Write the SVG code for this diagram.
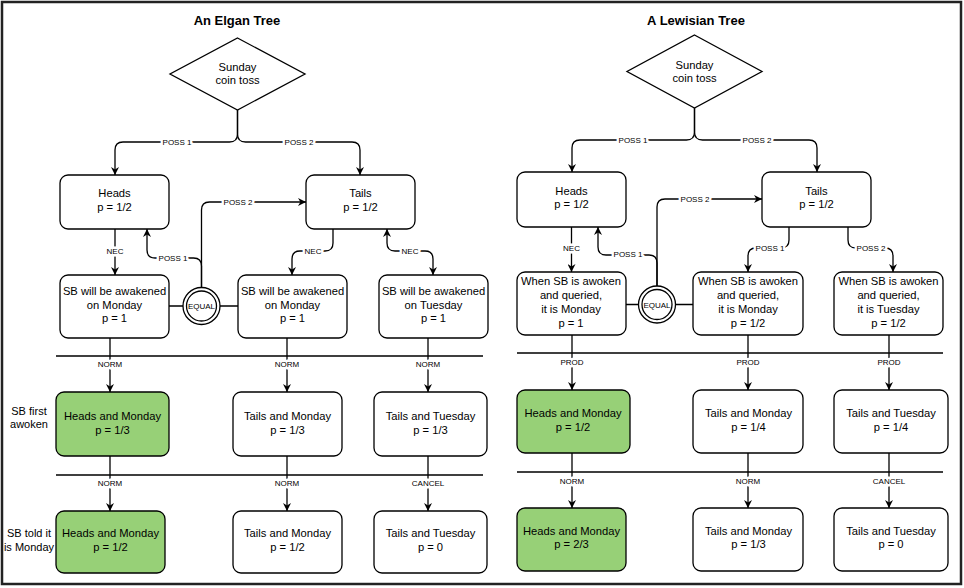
<svg xmlns="http://www.w3.org/2000/svg" width="964" height="588" viewBox="0 0 964 588">
<defs>
<marker id="arr" viewBox="0 0 10 10" refX="10" refY="5" markerWidth="8" markerHeight="8" markerUnits="userSpaceOnUse" orient="auto">
<path d="M0,0 L10,5 L0,10 L3,5 Z" fill="#000"/>
</marker>
<marker id="arrs" viewBox="0 0 10 10" refX="10" refY="5" markerWidth="8" markerHeight="8" markerUnits="userSpaceOnUse" orient="auto-start-reverse">
<path d="M0,0 L10,5 L0,10 L3,5 Z" fill="#000"/>
</marker>
<style>
text{font-family:"Liberation Sans",Arial,sans-serif;fill:#000;text-anchor:middle}
.t{font-size:11.2px}
.title{font-size:13px;font-weight:bold}
.side{font-size:11px}
.lbl{font-size:8px;paint-order:stroke;stroke:#fff;stroke-width:5px;stroke-linejoin:round}
.box{fill:#fff;stroke:#000;stroke-width:1.3}
.green{fill:#97D077;stroke:#000;stroke-width:1.3}
.e{fill:none;stroke:#000;stroke-width:1.3}
.ea{fill:none;stroke:#000;stroke-width:1.3;marker-end:url(#arr)}
</style>
</defs>
<rect x="2" y="2" width="959" height="582" fill="#fff" stroke="#222" stroke-width="2.5"/>

<!-- Connectors -->
<g id="connectors">
<!-- left tree -->
<path class="ea" d="M237.5,110 V134 Q237.5,142 229.5,142 H123 Q115,142 115,150 V175"/>
<path class="ea" d="M237.5,110 V134 Q237.5,142 245.5,142 H352 Q360,142 360,150 V175"/>
<path class="ea" d="M115,229 V275"/>
<path class="ea" d="M333,229 V243 Q333,251 325,251 H300 Q292,251 292,259 V275"/>
<path class="ea" d="M387,229 V243 Q387,251 395,251 H425 Q433,251 433,259 V275" marker-start="url(#arrs)"/>
<path class="e" d="M169,306 H183 M220,306 H238"/>
<path class="ea" d="M201.5,287.5 V210 Q201.5,202 209.5,202 H306"/>
<path class="ea" d="M201.5,287.5 V266 Q201.5,258 193.5,258 H155 Q147,258 147,250 V229"/>
<path class="e" d="M56,356 H483 M56,475 H483"/>
<path class="ea" d="M110,338 V392"/>
<path class="ea" d="M287,338 V392"/>
<path class="ea" d="M428,338 V392"/>
<path class="ea" d="M110,456 V511"/>
<path class="ea" d="M287,456 V511"/>
<path class="ea" d="M428,456 V511"/>
<text class="lbl" x="177" y="145">POSS 1</text>
<text class="lbl" x="299" y="145">POSS 2</text>
<text class="lbl" x="115" y="254">NEC</text>
<text class="lbl" x="313" y="254">NEC</text>
<text class="lbl" x="410" y="254">NEC</text>
<text class="lbl" x="238" y="205">POSS 2</text>
<text class="lbl" x="173" y="261">POSS 1</text>
<text class="lbl" x="110" y="367">NORM</text>
<text class="lbl" x="287" y="367">NORM</text>
<text class="lbl" x="428" y="367">NORM</text>
<text class="lbl" x="110" y="486">NORM</text>
<text class="lbl" x="287" y="486">NORM</text>
<text class="lbl" x="428" y="486">CANCEL</text>
<!-- right tree -->
<path class="ea" d="M694.5,108 V132 Q694.5,140 686.5,140 H580 Q572,140 572,148 V172"/>
<path class="ea" d="M694.5,108 V132 Q694.5,140 702.5,140 H809 Q817,140 817,148 V172"/>
<path class="ea" d="M571.5,227 V272"/>
<path class="e" d="M626,304.5 H638.5 M675.5,304.5 H693"/>
<path class="ea" d="M657,286 V207 Q657,199 665,199 H762"/>
<path class="ea" d="M657,286 V263 Q657,255 649,255 H606 Q598,255 598,247 V227"/>
<path class="ea" d="M789,227 V240 Q789,248 781,248 H756 Q748,248 748,256 V272"/>
<path class="ea" d="M848,227 V240 Q848,248 856,248 H885 Q893,248 893,256 V272"/>
<path class="e" d="M517,353 H943 M517,472 H943"/>
<path class="ea" d="M572,335 V390"/>
<path class="ea" d="M748,335 V390"/>
<path class="ea" d="M889,335 V390"/>
<path class="ea" d="M572,453 V508"/>
<path class="ea" d="M748,453 V508"/>
<path class="ea" d="M889,453 V508"/>
<text class="lbl" x="633" y="143">POSS 1</text>
<text class="lbl" x="757" y="143">POSS 2</text>
<text class="lbl" x="571.5" y="251">NEC</text>
<text class="lbl" x="695" y="202">POSS 2</text>
<text class="lbl" x="628" y="257">POSS 1</text>
<text class="lbl" x="770" y="251">POSS 1</text>
<text class="lbl" x="871" y="251">POSS 2</text>
<text class="lbl" x="572" y="365">PROD</text>
<text class="lbl" x="748" y="365">PROD</text>
<text class="lbl" x="889" y="365">PROD</text>
<text class="lbl" x="572" y="484">NORM</text>
<text class="lbl" x="748" y="484">NORM</text>
<text class="lbl" x="889" y="484">CANCEL</text>
</g>

<!-- Titles and side labels -->
<text class="title" x="237" y="25">An Elgan Tree</text>
<text class="title" x="696" y="25">A Lewisian Tree</text>
<g id="side-labels">
<text class="side" x="29" y="415">SB first</text>
<text class="side" x="29" y="428">awoken</text>
<text class="side" x="29" y="537">SB told it</text>
<text class="side" x="29" y="551">is Monday</text>
</g>

<!-- Left tree nodes -->
<g id="L-toss"><polygon class="box" points="237.5,38 305,74 237.5,110 170,74"/>
<text class="t" x="237.5" y="71">Sunday</text><text class="t" x="237.5" y="84">coin toss</text></g>
<g id="L-heads"><rect class="box" x="60" y="175" width="109" height="54" rx="8"/>
<text class="t" x="114.5" y="197">Heads</text><text class="t" x="114.5" y="211">p = 1/2</text></g>
<g id="L-tails"><rect class="box" x="306" y="175" width="109" height="54" rx="8"/>
<text class="t" x="360.5" y="197">Tails</text><text class="t" x="360.5" y="211">p = 1/2</text></g>
<g id="L-sb1"><rect class="box" x="60" y="275" width="109" height="63" rx="8"/>
<text class="t" x="114.5" y="295">SB will be awakened</text><text class="t" x="114.5" y="309">on Monday</text><text class="t" x="114.5" y="322">p = 1</text></g>
<g id="L-equal"><circle class="box" cx="201.5" cy="306" r="18.5"/><circle fill="none" stroke="#000" stroke-width="1.3" cx="201.5" cy="306" r="15"/>
<text x="201.5" y="309" style="font-size:8px">EQUAL</text></g>
<g id="L-sb2"><rect class="box" x="238" y="275" width="109" height="63" rx="8"/>
<text class="t" x="292.5" y="295">SB will be awakened</text><text class="t" x="292.5" y="309">on Monday</text><text class="t" x="292.5" y="322">p = 1</text></g>
<g id="L-sb3"><rect class="box" x="379" y="275" width="109" height="63" rx="8"/>
<text class="t" x="433.5" y="295">SB will be awakened</text><text class="t" x="433.5" y="309">on Tuesday</text><text class="t" x="433.5" y="322">p = 1</text></g>
<g id="L-r1a"><rect class="green" x="56" y="392" width="113" height="64" rx="8"/>
<text class="t" x="112.5" y="420">Heads and Monday</text><text class="t" x="112.5" y="434">p = 1/3</text></g>
<g id="L-r1b"><rect class="box" x="233" y="392" width="109" height="64" rx="8"/>
<text class="t" x="287.5" y="420">Tails and Monday</text><text class="t" x="287.5" y="434">p = 1/3</text></g>
<g id="L-r1c"><rect class="box" x="374" y="392" width="113" height="64" rx="8"/>
<text class="t" x="430.5" y="420">Tails and Tuesday</text><text class="t" x="430.5" y="434">p = 1/3</text></g>
<g id="L-r2a"><rect class="green" x="56" y="511" width="109" height="62" rx="8"/>
<text class="t" x="110.5" y="537">Heads and Monday</text><text class="t" x="110.5" y="551">p = 1/2</text></g>
<g id="L-r2b"><rect class="box" x="233" y="511" width="109" height="62" rx="8"/>
<text class="t" x="287.5" y="537">Tails and Monday</text><text class="t" x="287.5" y="551">p = 1/2</text></g>
<g id="L-r2c"><rect class="box" x="374" y="511" width="113" height="62" rx="8"/>
<text class="t" x="430.5" y="537">Tails and Tuesday</text><text class="t" x="430.5" y="551">p = 0</text></g>

<!-- Right tree nodes -->
<g id="R-toss"><polygon class="box" points="694.5,35 762,71.5 694.5,108 627,71.5"/>
<text class="t" x="694.5" y="69">Sunday</text><text class="t" x="694.5" y="82">coin toss</text></g>
<g id="R-heads"><rect class="box" x="517" y="172" width="109" height="55" rx="8"/>
<text class="t" x="571.5" y="195">Heads</text><text class="t" x="571.5" y="208">p = 1/2</text></g>
<g id="R-tails"><rect class="box" x="762" y="172" width="109" height="55" rx="8"/>
<text class="t" x="816.5" y="195">Tails</text><text class="t" x="816.5" y="208">p = 1/2</text></g>
<g id="R-q1"><rect class="box" x="517" y="272" width="109" height="63" rx="8"/>
<text class="t" x="571" y="285">When SB is awoken</text><text class="t" x="571" y="299">and queried,</text><text class="t" x="571" y="313">it is Monday</text><text class="t" x="571" y="327">p = 1</text></g>
<g id="R-equal"><circle class="box" cx="657" cy="304.5" r="18.5"/><circle fill="none" stroke="#000" stroke-width="1.3" cx="657" cy="304.5" r="15"/>
<text x="657" y="307.5" style="font-size:8px">EQUAL</text></g>
<g id="R-q2"><rect class="box" x="693" y="272" width="110" height="63" rx="8"/>
<text class="t" x="748" y="285">When SB is awoken</text><text class="t" x="748" y="299">and queried,</text><text class="t" x="748" y="313">it is Monday</text><text class="t" x="748" y="327">p = 1/2</text></g>
<g id="R-q3"><rect class="box" x="834" y="272" width="109" height="63" rx="8"/>
<text class="t" x="888.5" y="285">When SB is awoken</text><text class="t" x="888.5" y="299">and queried,</text><text class="t" x="888.5" y="313">it is Tuesday</text><text class="t" x="888.5" y="327">p = 1/2</text></g>
<g id="R-r1a"><rect class="green" x="517" y="390" width="113" height="63" rx="8"/>
<text class="t" x="573" y="417">Heads and Monday</text><text class="t" x="573" y="431">p = 1/2</text></g>
<g id="R-r1b"><rect class="box" x="693" y="390" width="110" height="63" rx="8"/>
<text class="t" x="748.5" y="417">Tails and Monday</text><text class="t" x="748.5" y="431">p = 1/4</text></g>
<g id="R-r1c"><rect class="box" x="834" y="390" width="114" height="63" rx="8"/>
<text class="t" x="891" y="417">Tails and Tuesday</text><text class="t" x="891" y="431">p = 1/4</text></g>
<g id="R-r2a"><rect class="green" x="517" y="508" width="109" height="63" rx="8"/>
<text class="t" x="571.5" y="535">Heads and Monday</text><text class="t" x="571.5" y="548">p = 2/3</text></g>
<g id="R-r2b"><rect class="box" x="693" y="508" width="110" height="63" rx="8"/>
<text class="t" x="748.5" y="535">Tails and Monday</text><text class="t" x="748.5" y="548">p = 1/3</text></g>
<g id="R-r2c"><rect class="box" x="834" y="508" width="114" height="63" rx="8"/>
<text class="t" x="891" y="535">Tails and Tuesday</text><text class="t" x="891" y="548">p = 0</text></g>
</svg>
